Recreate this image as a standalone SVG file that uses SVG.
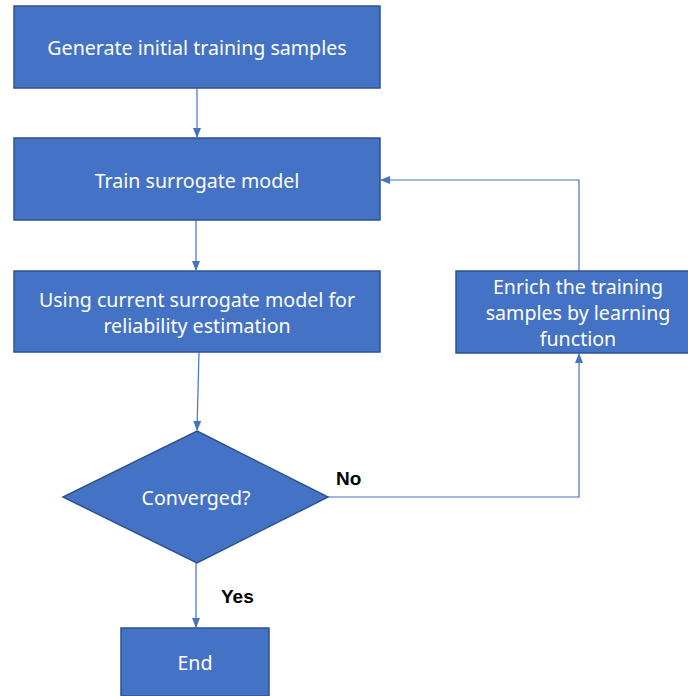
<svg xmlns="http://www.w3.org/2000/svg" width="688" height="696" viewBox="0 0 688 696">
<style>
.box{fill:#4472C4;stroke:#2F528F;stroke-width:1.5}
.t{fill:#ffffff;font-family:"Noto Sans","Open Sans",sans-serif;font-size:19.6px;text-anchor:middle}
.lbl{fill:#000000;font-family:"Liberation Sans",Arial,sans-serif;font-size:19px;font-weight:bold}
.c{fill:none;stroke:#4472C4;stroke-width:1.2}
</style>
<defs>
<marker id="ah" markerWidth="10" markerHeight="8" refX="9" refY="4" orient="auto" markerUnits="userSpaceOnUse">
<path d="M0,0 L10,4 L0,8 Z" fill="#4472C4"/>
</marker>
</defs>
<rect width="688" height="696" fill="#ffffff"/>
<g id="connectors">
<line class="c" x1="197" y1="88" x2="197" y2="137" marker-end="url(#ah)"/>
<line class="c" x1="196" y1="220" x2="196" y2="270" marker-end="url(#ah)"/>
<line class="c" x1="199" y1="352" x2="197" y2="430" marker-end="url(#ah)"/>
<line class="c" x1="196" y1="563" x2="196" y2="627" marker-end="url(#ah)"/>
<polyline class="c" points="328,497 579,497 579,354" marker-end="url(#ah)"/>
<polyline class="c" points="579,271 579,180 381,180" marker-end="url(#ah)"/>
</g>
<g id="n1">
<rect class="box" x="14" y="6" width="366" height="82"/>
<text class="t" x="197" y="55">Generate initial training samples</text>
</g>
<g id="n2">
<rect class="box" x="14" y="138" width="366" height="82"/>
<text class="t" x="197" y="188">Train surrogate model</text>
</g>
<g id="n3">
<rect class="box" x="14" y="271" width="366" height="81"/>
<text class="t" x="197" y="307">Using current surrogate model for</text>
<text class="t" x="197" y="333">reliability estimation</text>
</g>
<g id="n4">
<polygon class="box" points="197,431 328,497 197,563 63,497"/>
<text class="t" x="196" y="505">Converged?</text>
</g>
<g id="n5">
<rect class="box" x="121" y="628" width="148" height="68"/>
<text class="t" x="195" y="670">End</text>
</g>
<g id="n6">
<rect class="box" x="456" y="271" width="234" height="82"/>
<text class="t" x="578" y="294">Enrich the training</text>
<text class="t" x="578" y="320">samples by learning</text>
<text class="t" x="578" y="346">function</text>
</g>
<g id="labels">
<text class="lbl" x="336" y="485">No</text>
<text class="lbl" x="221" y="603">Yes</text>
</g>
</svg>
